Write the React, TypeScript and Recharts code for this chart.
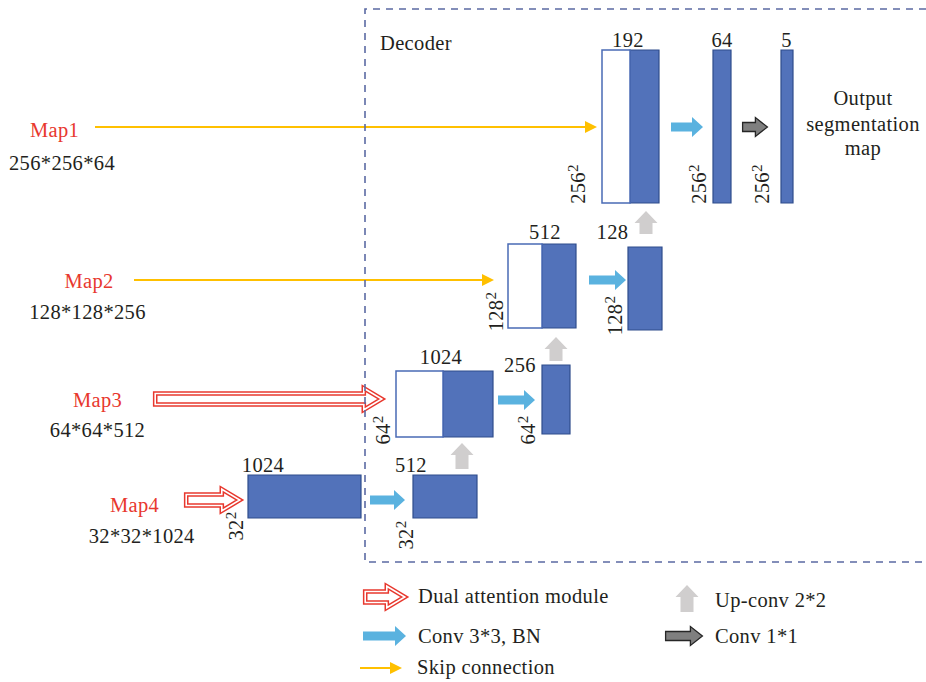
import React from 'react';
import { ComposedChart, XAxis, YAxis, ReferenceArea, Scatter } from 'recharts';

const W = 926;
const H = 682;

// ---------- data (diagram coordinates) ----------
const mapNames = ['Map1', 'Map2', 'Map3', 'Map4'];
const mapShapes = ['256*256*64', '128*128*256', '64*64*512', '32*32*1024'];
const mapNameX = [54.5, 89, 97.5, 134.5];
const mapNameY = [130, 281, 400, 505];
const mapShapeX = [62, 87.5, 97.5, 141.7];
const mapShapeY = [162.7, 312.3, 430, 536];

// feature-map blocks: [x1, x2, y1, y2]
const filledBlocks = [
  [248, 361, 475, 518],
  [413, 477, 475, 518],
  [443, 493, 371, 437],
  [542, 570, 365, 434],
  [542, 576, 244, 328],
  [628, 662, 247, 330],
  [630, 659, 50, 203],
  [713, 731, 50, 203],
  [781, 793, 50, 203],
];
const skipBlocks = [
  [396, 443, 371, 437],
  [508, 542, 244, 328],
  [602, 630, 50, 203],
];

const channelText = ['1024', '512', '1024', '256', '512', '128', '192', '64', '5'];
const channelX = [263, 411, 441, 520, 545, 612.5, 628, 722, 786.5];
const channelBase = [471.5, 471.5, 364.3, 372.3, 239.3, 238.5, 46.7, 46.7, 47];

const sizeText = ['32', '32', '64', '64', '128', '128', '256', '256', '256'];
const sizeBaseX = [243, 413, 390, 535, 503, 621.7, 585, 705.7, 769];
const sizeMidY = [526, 535, 430, 430, 311.5, 315.5, 184, 184, 184];

// arrows: [tail x, tip x, y]
const convArrows = [
  [370, 405, 500],
  [498, 535, 400],
  [589, 626, 280],
  [671, 703, 127],
  [363, 406, 636],
];
const oneByOneArrows = [
  [742, 768, 127],
  [665, 703, 636],
];
const skipArrows = [
  [95, 597, 127],
  [134, 494, 280],
  [360, 402, 668],
];
const attentionArrows = [
  [153, 384, 399],
  [184, 242, 500],
  [363, 407, 597],
];
// up arrows: [x, bottom y, top y]
const upArrows = [
  [462, 469, 443],
  [556, 361, 337],
  [646, 234, 211],
  [687, 612, 585],
];

const outputLines = ['Output', 'segmentation', 'map'];
const outputBase = [105, 130.5, 155];
const outputX = 863;

const legendLabels = ['Dual attention module', 'Conv 3*3, BN', 'Skip connection', 'Up-conv 2*2', 'Conv 1*1'];
const legendTextX = [418, 418, 417, 715, 715];
const legendTextBase = [603, 643, 674, 607, 643];

const decoderTitle = 'Decoder';
const decoderFrame = [365, 926, 9, 562];

// ---------- styles ----------
const FONT = "'Liberation Serif', 'Times New Roman', serif";
const FS = 20.5;
const LS = 0.35;
const INK = '#231F20';
const RED = '#E8382E';
const BLOCK_FILL = '#5272BA';
const BLOCK_STROKE = '#2F4D8C';
const SKIP_STROKE = '#4A6BB5';
const CONV_BLUE = '#5AB2DF';
const GOLD = '#FFC000';
const UP_GRAY = '#D0CECE';
const DARK_GRAY = '#7F7F7F';
const FRAME = '#5B6AA3';

const pts = (arr: number[][]) => arr.map((p) => p.join(',')).join(' ');

function rightArrowPts(x: number, y: number, w: number, h: number, body: number, headLen: number, inset = 0) {
  const cy = y + h / 2;
  const x0 = x + inset;
  const tip = x + w - inset;
  const hb = tip - headLen;
  const top = y + inset;
  const bot = y + h - inset;
  return pts([
    [x0, cy - body / 2],
    [hb, cy - body / 2],
    [hb, top],
    [tip, cy],
    [hb, bot],
    [hb, cy + body / 2],
    [x0, cy + body / 2],
  ]);
}

const ConvShape = (p: any) => (
  <polygon points={rightArrowPts(p.x, p.y, p.width, p.height, 9, 11)} fill={CONV_BLUE} stroke="none" />
);
const OneByOneShape = (p: any) => (
  <polygon
    points={rightArrowPts(p.x, p.y, p.width, p.height, 9, 12, 0.6)}
    fill={DARK_GRAY}
    stroke="#262626"
    strokeWidth={1.3}
  />
);
const AttentionShape = (p: any) => {
  const points = rightArrowPts(p.x, p.y, p.width, p.height, 11, 18, 2.2);
  return (
    <g>
      <polygon points={points} fill="#fff" stroke={RED} strokeWidth={4.6} strokeLinejoin="miter" />
      <polygon points={points} fill="none" stroke="#fff" strokeWidth={1.6} strokeLinejoin="miter" />
    </g>
  );
};
const SkipShape = (p: any) => {
  const cy = p.y + p.height / 2;
  const tip = p.x + p.width;
  const hl = 12;
  return (
    <g>
      <line x1={p.x} y1={cy} x2={tip - hl + 1} y2={cy} stroke={GOLD} strokeWidth={2} />
      <polygon points={pts([[tip - hl, p.y], [tip, cy], [tip - hl, p.y + p.height]])} fill={GOLD} />
    </g>
  );
};
const UpShape = (p: any) => {
  const cx = p.x + p.width / 2;
  const body = 13;
  const hl = 12;
  const hb = p.y + hl;
  return (
    <polygon
      points={pts([
        [cx - body / 2, p.y + p.height],
        [cx - body / 2, hb],
        [p.x, hb],
        [cx, p.y],
        [p.x + p.width, hb],
        [cx + body / 2, hb],
        [cx + body / 2, p.y + p.height],
      ])}
      fill={UP_GRAY}
    />
  );
};
const FrameShape = (p: any) => (
  <path
    d={`M${p.x + p.width},${p.y} H${p.x} V${p.y + p.height} H${p.x + p.width}`}
    fill="none"
    stroke={FRAME}
    strokeWidth={1.6}
    strokeDasharray="7 6"
  />
);

const textShape = (anchor: string, color: string, baseline?: string) => (p: any) => (
  <text
    x={p.cx}
    y={p.cy}
    textAnchor={anchor}
    dominantBaseline={baseline}
    fill={color}
    fontFamily={FONT}
    fontSize={FS}
    letterSpacing={LS}
  >
    {p.payload.text}
  </text>
);

const SizeShape = (p: any) => (
  <text
    x={p.cx}
    y={p.cy}
    transform={`rotate(-90 ${p.cx} ${p.cy})`}
    textAnchor="middle"
    fill={INK}
    fontFamily={FONT}
    fontSize={FS}
    letterSpacing={LS}
  >
    {p.payload.text}
    <tspan dy={-7} fontSize={15}>2</tspan>
  </text>
);

const toPts = (texts: string[], xs: number[] | number, ys: number[]) =>
  texts.map((t, i) => ({ x: Array.isArray(xs) ? xs[i] : xs, y: ys[i], text: t }));

export default function App() {
  const mapNameData = toPts(mapNames, mapNameX, mapNameY);
  const mapShapeData = toPts(mapShapes, mapShapeX, mapShapeY);
  const channelData = toPts(channelText, channelX, channelBase);
  const sizeData = toPts(sizeText, sizeBaseX, sizeMidY);
  const outputData = toPts(outputLines, outputX, outputBase);
  const legendData = toPts(legendLabels, legendTextX, legendTextBase);
  const decoderData = [{ x: 380, y: 50, text: decoderTitle }];

  return (
    <div style={{ position: 'absolute', left: 0, top: 0, width: W, height: H, background: '#fff' }}>
      <ComposedChart width={W} height={H} margin={{ top: 0, right: 0, bottom: 0, left: 0 }}>
        <XAxis type="number" dataKey="x" domain={[0, W]} hide allowDataOverflow />
        <YAxis type="number" dataKey="y" domain={[0, H]} reversed hide allowDataOverflow />

        {skipArrows.map(([a, b, y], i) => (
          <ReferenceArea key={`sk${i}`} x1={a} x2={b} y1={y - 6} y2={y + 6} shape={SkipShape} />
        ))}
        {attentionArrows.map(([a, b, y], i) => (
          <ReferenceArea key={`at${i}`} x1={a} x2={b} y1={y - 13} y2={y + 13} shape={AttentionShape} />
        ))}
        {filledBlocks.map(([x1, x2, y1, y2], i) => (
          <ReferenceArea
            key={`fb${i}`}
            x1={x1}
            x2={x2}
            y1={y1}
            y2={y2}
            fill={BLOCK_FILL}
            fillOpacity={1}
            stroke={BLOCK_STROKE}
            strokeWidth={1.2}
          />
        ))}
        {skipBlocks.map(([x1, x2, y1, y2], i) => (
          <ReferenceArea
            key={`sb${i}`}
            x1={x1}
            x2={x2}
            y1={y1}
            y2={y2}
            fill="#fff"
            fillOpacity={1}
            stroke={SKIP_STROKE}
            strokeWidth={1.5}
          />
        ))}
        {convArrows.map(([a, b, y], i) => (
          <ReferenceArea key={`cv${i}`} x1={a} x2={b} y1={y - 10} y2={y + 10} shape={ConvShape} />
        ))}
        {oneByOneArrows.map(([a, b, y], i) => (
          <ReferenceArea key={`ob${i}`} x1={a} x2={b} y1={y - 10} y2={y + 10} shape={OneByOneShape} />
        ))}
        {upArrows.map(([x, b, t], i) => (
          <ReferenceArea key={`up${i}`} x1={x - 11.5} x2={x + 11.5} y1={b} y2={t} shape={UpShape} />
        ))}
        <ReferenceArea
          x1={decoderFrame[0]}
          x2={decoderFrame[1]}
          y1={decoderFrame[2]}
          y2={decoderFrame[3]}
          shape={FrameShape}
        />

        <Scatter data={mapNameData} shape={textShape('middle', RED, 'central')} isAnimationActive={false} />
        <Scatter data={mapShapeData} shape={textShape('middle', INK, 'central')} isAnimationActive={false} />
        <Scatter data={channelData} shape={textShape('middle', INK)} isAnimationActive={false} />
        <Scatter data={sizeData} shape={SizeShape} isAnimationActive={false} />
        <Scatter data={outputData} shape={textShape('middle', INK)} isAnimationActive={false} />
        <Scatter data={legendData} shape={textShape('start', INK)} isAnimationActive={false} />
        <Scatter data={decoderData} shape={textShape('start', INK)} isAnimationActive={false} />
      </ComposedChart>
    </div>
  );
}
